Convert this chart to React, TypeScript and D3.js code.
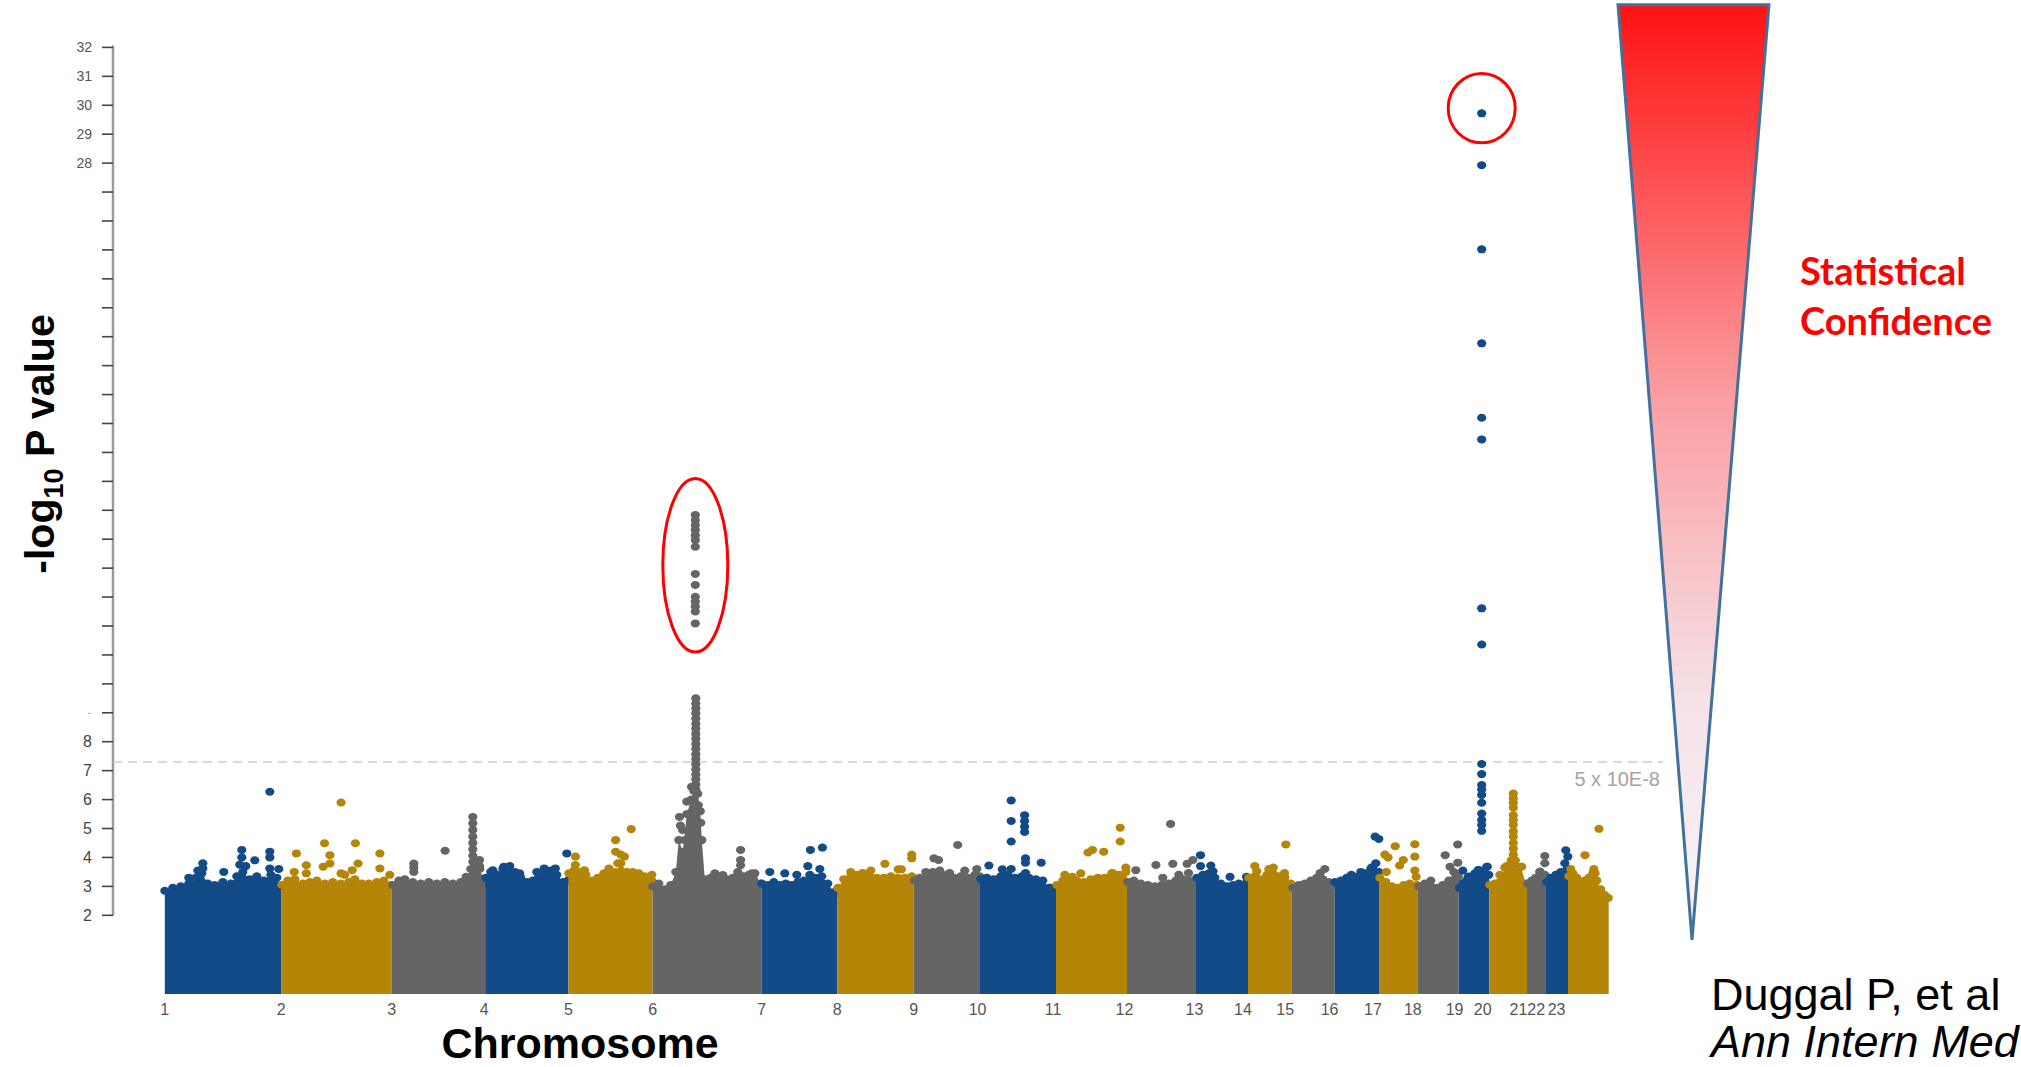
import * as d3 from 'd3'

const WIDTH = 2021
const HEIGHT = 1067

const BLUE = '#134b89'
const GOLD = '#b58508'
const GREY = '#656565'
const CHROM_COLORS = [BLUE, GOLD, GREY]

// cumulative genome index (start of each chromosome block)
const CHROM_STARTS = [
  0, 116.3, 227, 320.4, 403.6, 487.8, 596.9, 672.4, 749, 815.2, 891.2, 962.2,
  1031.2, 1083.2, 1127, 1169.9, 1214.8, 1253.1, 1293.9, 1324.5, 1362.2, 1381.2, 1403.2,
]
const GENOME_END = 1443.9

const X_LABELS = ['1', '2', '3', '4', '5', '6', '7', '8', '9', '10', '11', '12', '13', '14', '15', '16', '17', '18', '19', '20', '21', '22', '23']
const X_LABEL_POS = [
  0, 116.3, 227, 319.4, 403.6, 487.8, 596.9, 672.4, 749, 812.8, 888.2, 959.7,
  1029.6, 1078.1, 1120.4, 1164.8, 1208.2, 1248, 1289.8, 1317.9, 1353.6, 1371.4, 1391.8,
]

const Y_TICKS = [2, 3, 4, 5, 6, 7, 8, 9, 10, 11, 12, 13, 14, 15, 16, 17, 18, 19, 20, 21, 22, 23, 24, 25, 26, 27, 28, 29, 30, 31, 32]
const Y_LABELS_LOW = [2, 3, 4, 5, 6, 7, 8]
const Y_LABELS_HIGH = [28, 29, 30, 31, 32]

const FLOOR = -0.72
const THRESHOLD = 7.3

// upper envelope of the dense SNP cloud, per chromosome: [index, -log10 p]
const ENVELOPES: [number, number][][] = [
  [[0, 2.85], [8, 2.95], [16, 3.0], [24, 3.1], [31, 3.3], [37, 3.45], [43, 3.1], [50, 3.05], [58, 3.15], [66, 3.1], [72, 3.35], [78, 3.5], [85, 3.25], [92, 3.35], [99, 3.2], [106, 3.4], [112, 3.3], [116, 3.0]],
  [[117, 3.05], [123, 3.2], [130, 3.25], [138, 3.1], [145, 3.15], [152, 3.2], [160, 3.1], [168, 3.15], [176, 3.1], [184, 3.15], [190, 3.25], [197, 3.1], [204, 3.1], [212, 3.15], [219, 3.2], [226, 3.05]],
  [[228, 3.05], [234, 3.2], [240, 3.25], [248, 3.15], [256, 3.1], [264, 3.15], [272, 3.1], [280, 3.15], [288, 3.1], [296, 3.15], [302, 3.3], [306, 3.6], [310, 3.55], [315, 3.6], [320, 3.1]],
  [[321, 3.3], [326, 3.5], [332, 3.4], [338, 3.6], [344, 3.45], [350, 3.5], [356, 3.3], [362, 3.15], [368, 3.2], [374, 3.35], [380, 3.55], [386, 3.55], [392, 3.4], [398, 3.15], [403, 3.2]],
  [[404, 3.45], [409, 3.55], [415, 3.5], [421, 3.4], [427, 3.2], [433, 3.3], [439, 3.45], [445, 3.55], [451, 3.5], [456, 3.8], [462, 3.5], [468, 3.5], [474, 3.45], [480, 3.35], [487, 3.2]],
  [[488, 3.0], [494, 3.1], [500, 2.9], [506, 3.05], [511, 3.5], [514, 4.6], [518, 4.2], [522, 5.5], [526.5, 6.0], [529, 6.3], [533, 6.2], [535.5, 5.6], [537, 4.6], [540, 3.25], [546, 3.3], [550, 3.45], [556, 3.3], [562, 3.25], [568, 3.3], [573, 3.5], [578, 3.35], [584, 3.4], [590, 3.45], [596, 3.1]],
  [[597, 3.1], [603, 3.05], [609, 3.15], [615, 3.05], [621, 3.1], [627, 3.05], [633, 3.15], [639, 3.2], [645, 3.4], [651, 3.3], [657, 3.35], [663, 3.1], [669, 2.8], [672, 2.75]],
  [[673, 2.95], [679, 3.25], [686, 3.35], [692, 3.4], [698, 3.45], [705, 3.35], [712, 3.3], [719, 3.3], [726, 3.35], [733, 3.3], [740, 3.3], [747, 3.35]],
  [[749.5, 3.2], [755, 3.3], [761, 3.5], [768, 3.5], [775, 3.55], [782, 3.4], [789, 3.3], [796, 3.35], [803, 3.3], [810, 3.4], [815, 3.35]],
  [[816, 3.25], [822, 3.3], [829, 3.25], [836, 3.35], [843, 3.4], [850, 3.3], [857, 3.35], [864, 3.3], [871, 3.25], [878, 3.2], [884, 2.95], [890, 2.85]],
  [[892, 3.05], [898, 3.2], [905, 3.3], [912, 3.2], [919, 3.15], [926, 3.25], [933, 3.3], [940, 3.3], [947, 3.45], [954, 3.4], [961, 3.5]],
  [[963, 3.15], [969, 3.2], [976, 3.1], [983, 3.05], [990, 3.0], [997, 3.05], [1004, 3.1], [1011, 3.2], [1018, 3.25], [1025, 3.2], [1030, 3.1]],
  [[1032, 3.3], [1038, 3.4], [1044, 3.45], [1050, 3.3], [1056, 3.1], [1062, 3.0], [1068, 3.05], [1074, 3.1], [1082, 3.15]],
  [[1084, 3.3], [1090, 3.35], [1096, 3.25], [1102, 3.4], [1108, 3.45], [1114, 3.35], [1120, 3.3], [1126, 3.1]],
  [[1128, 2.95], [1134, 3.05], [1140, 3.1], [1146, 3.2], [1152, 3.3], [1158, 3.25], [1164, 3.15], [1169, 3.05]],
  [[1170, 3.15], [1176, 3.2], [1182, 3.3], [1188, 3.35], [1194, 3.35], [1200, 3.45], [1206, 3.6], [1211, 3.8], [1214, 3.5]],
  [[1215, 3.3], [1221, 3.15], [1227, 3.0], [1233, 2.95], [1239, 3.05], [1245, 3.1], [1252, 3.05]],
  [[1254, 3.0], [1260, 3.1], [1266, 3.0], [1272, 2.95], [1278, 3.05], [1284, 3.2], [1289, 3.5], [1293, 3.3]],
  [[1294.5, 2.95], [1298, 3.1], [1302, 3.22], [1306, 3.33], [1310, 3.45], [1314, 3.57], [1318, 3.5], [1322, 3.68], [1324, 3.4]],
  [[1325, 3.05], [1330, 3.1], [1335, 3.15], [1340, 3.65], [1344, 3.5], [1346.5, 3.9], [1350.5, 3.9], [1353, 3.6], [1356, 3.68], [1361, 3.1]],
  [[1363, 3.1], [1367, 3.2], [1371, 3.3], [1375, 3.5], [1380, 3.4]],
  [[1382, 3.15], [1386, 3.3], [1391, 3.4], [1396, 3.5], [1400, 3.8], [1403, 3.6]],
  [[1404, 3.35], [1408, 3.45], [1412, 3.3], [1416, 3.1], [1420, 3.2], [1424, 3.3], [1428, 3.45], [1432, 3.2], [1436, 2.9], [1440, 2.7], [1443.5, 2.6]],
]

// individual SNPs standing above the cloud: [index, -log10 p]
const HITS: [number, number][] = [
  [77, 4.26], [77, 4.0], [75, 3.75], [38, 3.8], [38, 3.62], [90, 3.9], [105, 6.27], [105, 4.2], [105, 4.0], [105, 3.62], [114, 3.6], [59, 3.5], [33, 3.55], [81, 3.7], [24, 3.3],
  [131.6, 4.14], [141.5, 3.73], [141.5, 3.45], [158.4, 3.68], [159.7, 4.49], [165.1, 4.08], [165.1, 3.79], [176.3, 5.9], [176.3, 3.45], [190.6, 4.49], [193.2, 3.79], [187.4, 3.56], [215.1, 4.14], [215.1, 3.62], [225, 3.4], [129.4, 3.5], [180, 3.4],
  [249, 3.79], [249, 3.65], [249, 3.5], [280.3, 4.23], [308, 5.4], [308, 5.18], [308, 4.95], [308, 4.72], [308, 4.5], [308, 4.28], [308, 4.06], [308, 3.85], [314.7, 3.91], [314.7, 3.7], [301.3, 3.33], [310.5, 3.8],
  [328, 3.56], [339, 3.68], [354.8, 3.45], [379.4, 3.62], [390.5, 3.62], [402, 4.14], [345, 3.7], [372, 3.5],
  [410.6, 4.03], [410.6, 3.74], [419.6, 3.56], [450.8, 4.6], [450.8, 4.2], [459.7, 4.03], [466.4, 4.98], [444.1, 3.62], [453, 3.8], [487, 3.4], [456, 4.1],
  [575.8, 4.26], [575.8, 3.91], [575.8, 3.73], [558, 3.39], [587, 3.45], [514.7, 5.4], [515.6, 5.1], [517.8, 4.95], [531, 5.5], [522, 5.93], [528.9, 5.99], [526.7, 6.44], [520, 4.6], [536, 5.2], [533.5, 5.8],
  [645.6, 4.26], [657.6, 4.34], [643, 3.7], [655, 3.6], [605, 3.5], [620, 3.45], [632, 3.4],
  [720.1, 3.78], [733.5, 3.59], [736.6, 3.59], [746.9, 4.1], [747, 3.97], [697.8, 3.46], [706, 3.55], [686, 3.5],
  [769.2, 3.97], [773.7, 3.91], [792.9, 4.43], [784.8, 3.46], [800, 3.55], [812, 3.6],
  [846.4, 5.97], [846.4, 5.26], [846.4, 4.55], [859.8, 5.46], [859.8, 5.26], [859.8, 5.07], [859.8, 4.88], [860.7, 3.97], [860.7, 3.82], [860.7, 3.46], [876.4, 3.82], [824.1, 3.72], [837.5, 3.59], [885.3, 2.95], [846.4, 3.6],
  [923.2, 4.17], [927.7, 4.26], [938.9, 4.2], [955.4, 5.03], [955.4, 4.55], [961, 3.65], [907.6, 3.33], [947.8, 3.46], [900, 3.4], [916, 3.45],
  [1005.8, 5.16], [991.1, 3.74], [1008, 3.78], [1022.3, 3.78], [1028.1, 3.91], [1023.7, 3.46], [971, 3.56], [998, 3.3], [1014, 3.4],
  [1035.7, 4.08], [1046, 3.72], [1048.2, 3.52], [1065.2, 3.33], [1081.7, 3.33], [1035.7, 3.7],
  [1121, 4.45], [1108.5, 3.65], [1092, 3.52], [1119.7, 3.46], [1104, 3.6], [1090, 3.7],
  [1155.4, 3.46], [1160, 3.6],
  [1210.3, 4.72], [1214, 4.64], [1206.7, 3.65], [1186.6, 3.4], [1196, 3.5],
  [1230.4, 4.39], [1220.1, 4.1], [1223.2, 4.0], [1250, 4.46], [1250, 4.03], [1234.8, 3.72], [1251.4, 3.33], [1221.5, 3.5], [1238.5, 3.91], [1250, 3.55],
  [1292.9, 4.45], [1280.4, 4.08], [1293, 3.82], [1285.2, 3.68], [1293.5, 3.36], [1266, 3.2],
  [1303.5, 3.34], [1313.5, 3.57], [1322.5, 3.68], [1298, 3.55],
  [1348.5, 6.21], [1348.5, 6.05], [1348.5, 5.9], [1348.5, 5.72], [1348.5, 5.46], [1348.5, 5.3], [1348.5, 5.12], [1348.5, 4.9], [1348.5, 4.72], [1348.5, 4.5], [1348.5, 4.3], [1348.5, 4.1], [1356.9, 3.68], [1341.9, 3.7], [1335, 3.4],
  [1375.2, 3.51], [1380, 3.8], [1380, 4.05],
  [1403, 4.03], [1398.5, 3.45], [1401, 4.25],
  [1434.2, 4.99], [1420.2, 4.08], [1430.2, 3.45], [1406, 3.6], [1429, 3.6],
]

// dense HLA column on chromosome 6 below the circled group
const COLUMN_6_POS = 531
const COLUMN_6 = [9.5, 9.32, 9.15, 8.98, 8.8, 8.62, 8.45, 8.27, 8.1, 7.92, 7.75, 7.57, 7.4, 7.22, 7.05, 6.87, 6.7, 6.52, 6.35]

// circled signals
const SIGNAL_6_POS = 530.5
const SIGNAL_6 = [15.84, 15.66, 15.49, 15.32, 15.14, 14.97, 14.74, 13.8, 13.42, 13.01, 12.84, 12.67, 12.5, 12.09]
const SIGNAL_20_POS = 1316.9
const SIGNAL_20 = [29.72, 27.93, 25.02, 21.77, 19.2, 18.45, 12.61, 11.36, 7.23, 6.88, 6.5, 6.35, 6.16, 5.89, 5.52, 5.29, 5.12, 4.92]

const HIGHLIGHTS = [
  { pos: 530.5, value: 14.1, halfSpan: 32.5, halfRange: 3.0 },
  { pos: 1316.9, value: 29.9, halfSpan: 33.5, halfRange: 1.2 },
]

const x = d3.scaleLinear().domain([0, GENOME_END]).range([164.8, 1608.7])
const y = d3.scaleLinear().domain([2, 32]).range([915.3, 47.4])

const AXIS_X = 113
const PLOT_RIGHT = 1663
const DOT_RX = 4.6
const DOT_RY = 4.0

function chromIndex(pos: number) {
  return Math.max(0, d3.bisectRight(CHROM_STARTS, pos) - 1)
}

const area = d3
  .area<[number, number]>()
  .x((d) => x(d[0]))
  .y0(y(FLOOR))
  .y1((d) => y(d[1]))

function Dot({ pos, value, color }: { pos: number; value: number; color: string }) {
  return <ellipse cx={x(pos)} cy={y(value)} rx={DOT_RX} ry={DOT_RY} fill={color} />
}

export default function App() {
  const font = 'Liberation Sans, Arial, Helvetica, sans-serif'
  return (
    <svg
      width={WIDTH}
      height={HEIGHT}
      viewBox={`0 0 ${WIDTH} ${HEIGHT}`}
      style={{ position: 'absolute', left: 0, top: 0, background: '#fff' }}
    >
      <defs>
        <linearGradient id="confidence" x1="0" y1="0" x2="0" y2="1">
          <stop offset="0" stopColor="#ff1212" />
          <stop offset="0.42" stopColor="#fa9ea2" />
          <stop offset="0.75" stopColor="#f5e3e8" />
          <stop offset="1" stopColor="#f6f5fa" />
        </linearGradient>
      </defs>

      {/* y axis */}
      <line x1={AXIS_X} x2={AXIS_X} y1={y(32) - 2} y2={y(2)} stroke="#9a9a9a" strokeWidth={2.5} />
      {Y_TICKS.map((t) => (
        <line key={t} x1={AXIS_X - 11} x2={AXIS_X} y1={y(t)} y2={y(t)} stroke="#444" strokeWidth={1.6} />
      ))}
      {Y_LABELS_LOW.map((t) => (
        <text key={t} x={92} y={y(t)} dy="0.36em" textAnchor="end" fontFamily={font} fontSize={16} fill="#444">
          {t}
        </text>
      ))}
      <text x={91} y={y(9) + 3} textAnchor="end" fontFamily={font} fontSize={9} fill="#777">
        -
      </text>
      {Y_LABELS_HIGH.map((t) => (
        <text key={t} x={92} y={y(t)} dy="0.36em" textAnchor="end" fontFamily={font} fontSize={14} fill="#555">
          {t}
        </text>
      ))}

      {/* genome-wide significance */}
      <line
        x1={AXIS_X}
        x2={PLOT_RIGHT}
        y1={y(THRESHOLD)}
        y2={y(THRESHOLD)}
        stroke="#cdcdcd"
        strokeWidth={1.5}
        strokeDasharray="9 6"
      />
      <text x={PLOT_RIGHT - 3} y={y(THRESHOLD) + 24} textAnchor="end" fontFamily={font} fontSize={20} fill="#a3a3a3">
        5 x 10E-8
      </text>

      {/* SNP cloud per chromosome */}
      {ENVELOPES.map((env, i) => {
        const start = CHROM_STARTS[i]
        const end = i + 1 < CHROM_STARTS.length ? CHROM_STARTS[i + 1] : GENOME_END
        const color = CHROM_COLORS[i % 3]
        const pts: [number, number][] = [[start, env[0][1]], ...env, [end, env[env.length - 1][1]]]
        return (
          <g key={i}>
            <path d={area(pts) ?? undefined} fill={color} />
            {env.map(([p, v], j) => (
              <Dot key={j} pos={p} value={v} color={color} />
            ))}
            {HITS.filter(([p]) => chromIndex(p) === i).map(([p, v], j) => (
              <Dot key={`h${j}`} pos={p} value={v} color={color} />
            ))}
          </g>
        )
      })}

      {COLUMN_6.map((v, i) => (
        <Dot key={`c6${i}`} pos={COLUMN_6_POS} value={v} color={CHROM_COLORS[chromIndex(COLUMN_6_POS) % 3]} />
      ))}
      {SIGNAL_6.map((v, i) => (
        <Dot key={`s6${i}`} pos={SIGNAL_6_POS} value={v} color={CHROM_COLORS[chromIndex(SIGNAL_6_POS) % 3]} />
      ))}
      {SIGNAL_20.map((v, i) => (
        <Dot key={`s20${i}`} pos={SIGNAL_20_POS} value={v} color={CHROM_COLORS[chromIndex(SIGNAL_20_POS) % 3]} />
      ))}

      {HIGHLIGHTS.map((h, i) => (
        <ellipse
          key={i}
          cx={x(h.pos)}
          cy={y(h.value)}
          rx={x(h.pos + h.halfSpan) - x(h.pos)}
          ry={y(h.value - h.halfRange) - y(h.value)}
          fill="none"
          stroke="#ff0000"
          strokeWidth={3}
        />
      ))}

      {/* x axis labels */}
      {X_LABELS.map((label, i) => (
        <text
          key={label}
          x={x(X_LABEL_POS[i])}
          y={1015}
          textAnchor="middle"
          fontFamily="Liberation Sans Narrow, Arial Narrow, Liberation Sans, Arial, sans-serif"
          fontSize={16}
          fill="#555"
        >
          {label}
        </text>
      ))}

      {/* axis titles */}
      <text x={580} y={1057.5} textAnchor="middle" fontFamily={font} fontWeight="bold" fontSize={43} fill="#000">
        Chromosome
      </text>
      <text
        transform="translate(54, 444) rotate(-90)"
        textAnchor="middle"
        fontFamily={font}
        fontWeight="bold"
        fontSize={41}
        fill="#000"
      >
        -log
        <tspan fontSize={27} dy={9}>
          10
        </tspan>
        <tspan dy={-9}> P value</tspan>
      </text>

      {/* confidence wedge */}
      <polygon
        points="1618,4.7 1769,4.7 1692,940"
        fill="url(#confidence)"
        stroke="#41719c"
        strokeWidth={3}
        strokeLinejoin="miter"
      />
      <text x={1800} y={285} fontFamily="Lato, Carlito, Open Sans, sans-serif" fontWeight="bold" fontSize={38} fill="#ff0000">
        Statistical
      </text>
      <text x={1800} y={335} fontFamily="Lato, Carlito, Open Sans, sans-serif" fontWeight="bold" fontSize={38} fill="#ff0000">
        Confidence
      </text>

      {/* citation */}
      <text x={1711} y={1010} fontFamily={font} fontSize={45} fill="#000">
        Duggal P, et al
      </text>
      <text x={1711} y={1057} fontFamily={font} fontStyle="italic" fontSize={45} fill="#000">
        Ann Intern Med
      </text>
    </svg>
  )
}
